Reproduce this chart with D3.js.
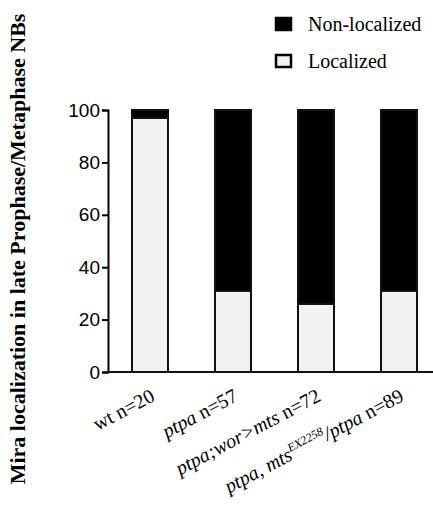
<!DOCTYPE html>
<html>
<head>
<meta charset="utf-8">
<title>Mira localization</title>
<script src="https://d3js.org/d3.v7.min.js"></script>
</head>
<body style="margin:0;background:#fff">
<svg width="433" height="521" style="display:block;font-family:'Liberation Serif'"></svg>
<script>
// data (percent of NBs)
const categories = ["wt", "ptpa", "ptpa;wor>mts", "ptpa, mtsEX2258/ptpa"];
const localized = [97, 31, 26, 31];
const nonLocalized = [3, 69, 74, 69];
const yTicks = [0, 20, 40, 60, 80, 100];
const seriesNames = ["Localized", "Non-localized"];

// label pieces: [text, style]  i = italic, s = superscript, n = normal
const labelParts = [
  [["wt", "n"], [" n=20", "n"]],
  [["ptpa", "i"], [" n=57", "n"]],
  [["ptpa;wor>mts", "i"], [" n=72", "n"]],
  [["ptpa, mts", "i"], ["EX2258", "s"], ["/ptpa", "i"], [" n=89", "n"]]
];

const SERIF = "Liberation Serif";

const svg = d3.select("svg");

const table = categories.map((c, i) => ({cat: c, Localized: localized[i], "Non-localized": nonLocalized[i]}));
const stacked = d3.stack().keys(seriesNames)(table);

const x = d3.scaleBand().domain(categories).range([108, 441]).paddingInner(0.566).paddingOuter(0.289);
const y = d3.scaleLinear().domain([0, 100]).range([372, 110]);
const fills = {"Localized": "#f4f1f1", "Non-localized": "#000"};

// bars
svg.append("g").selectAll("g").data(stacked).join("g")
    .attr("fill", d => fills[d.key])
  .selectAll("rect").data(d => d).join("rect")
    .attr("x", d => x(d.data.cat))
    .attr("y", d => y(d[1]))
    .attr("width", x.bandwidth())
    .attr("height", d => y(d[0]) - y(d[1]))
    .attr("stroke", "#111").attr("stroke-width", 2);

// y axis (d3 keeps its own sans-serif for the tick numbers)
const yAxis = svg.append("g")
    .attr("transform", "translate(108,0)")
    .call(d3.axisLeft(y).tickValues(yTicks).tickSize(6).tickPadding(2));
yAxis.attr("font-size", 19);
yAxis.select(".domain").attr("stroke-width", 2);
yAxis.selectAll(".tick line").attr("stroke-width", 2);

// x baseline
svg.append("line")
    .attr("x1", 107).attr("x2", 433)
    .attr("y1", y(0)).attr("y2", y(0))
    .attr("stroke", "#111").attr("stroke-width", 2);

// y title
svg.append("text")
    .attr("transform", "translate(25,249) rotate(-90)")
    .attr("text-anchor", "middle")
    .style("font-family", SERIF)
    .style("font-weight", "bold")
    .style("font-size", "22px")
    .text("Mira localization in late Prophase/Metaphase NBs");

// x labels, rotated
const lab = svg.append("g").selectAll("text").data(categories).join("text")
    .attr("transform", d => `translate(${x(d) + x.bandwidth() / 2 + 6},${y(0) + 28}) rotate(-28)`)
    .attr("text-anchor", "end")
    .style("font-family", SERIF)
    .style("font-size", "20px");
lab.each(function(d, i) {
  const t = d3.select(this);
  labelParts[i].forEach(([txt, st]) => {
    const sp = t.append("tspan").text(txt);
    if (st === "i") sp.style("font-style", "italic");
    if (st === "s") sp.style("font-style", "italic").style("font-size", "12px").attr("dy", -8);
    if (i === 3 && txt === "/ptpa") sp.attr("dy", 8);
  });
});

// legend
const legend = svg.append("g").selectAll("g")
  .data(["Non-localized", "Localized"])
  .join("g")
    .attr("transform", (d, i) => `translate(276,${18 + i * 37})`);
legend.append("rect")
    .attr("width", 15).attr("height", 12)
    .attr("fill", d => fills[d])
    .attr("stroke", "#000").attr("stroke-width", 2.5);
legend.append("text")
    .attr("x", 32).attr("y", 13)
    .style("font-family", SERIF)
    .style("font-size", "20px")
    .text(d => d);
</script>
</body>
</html>
